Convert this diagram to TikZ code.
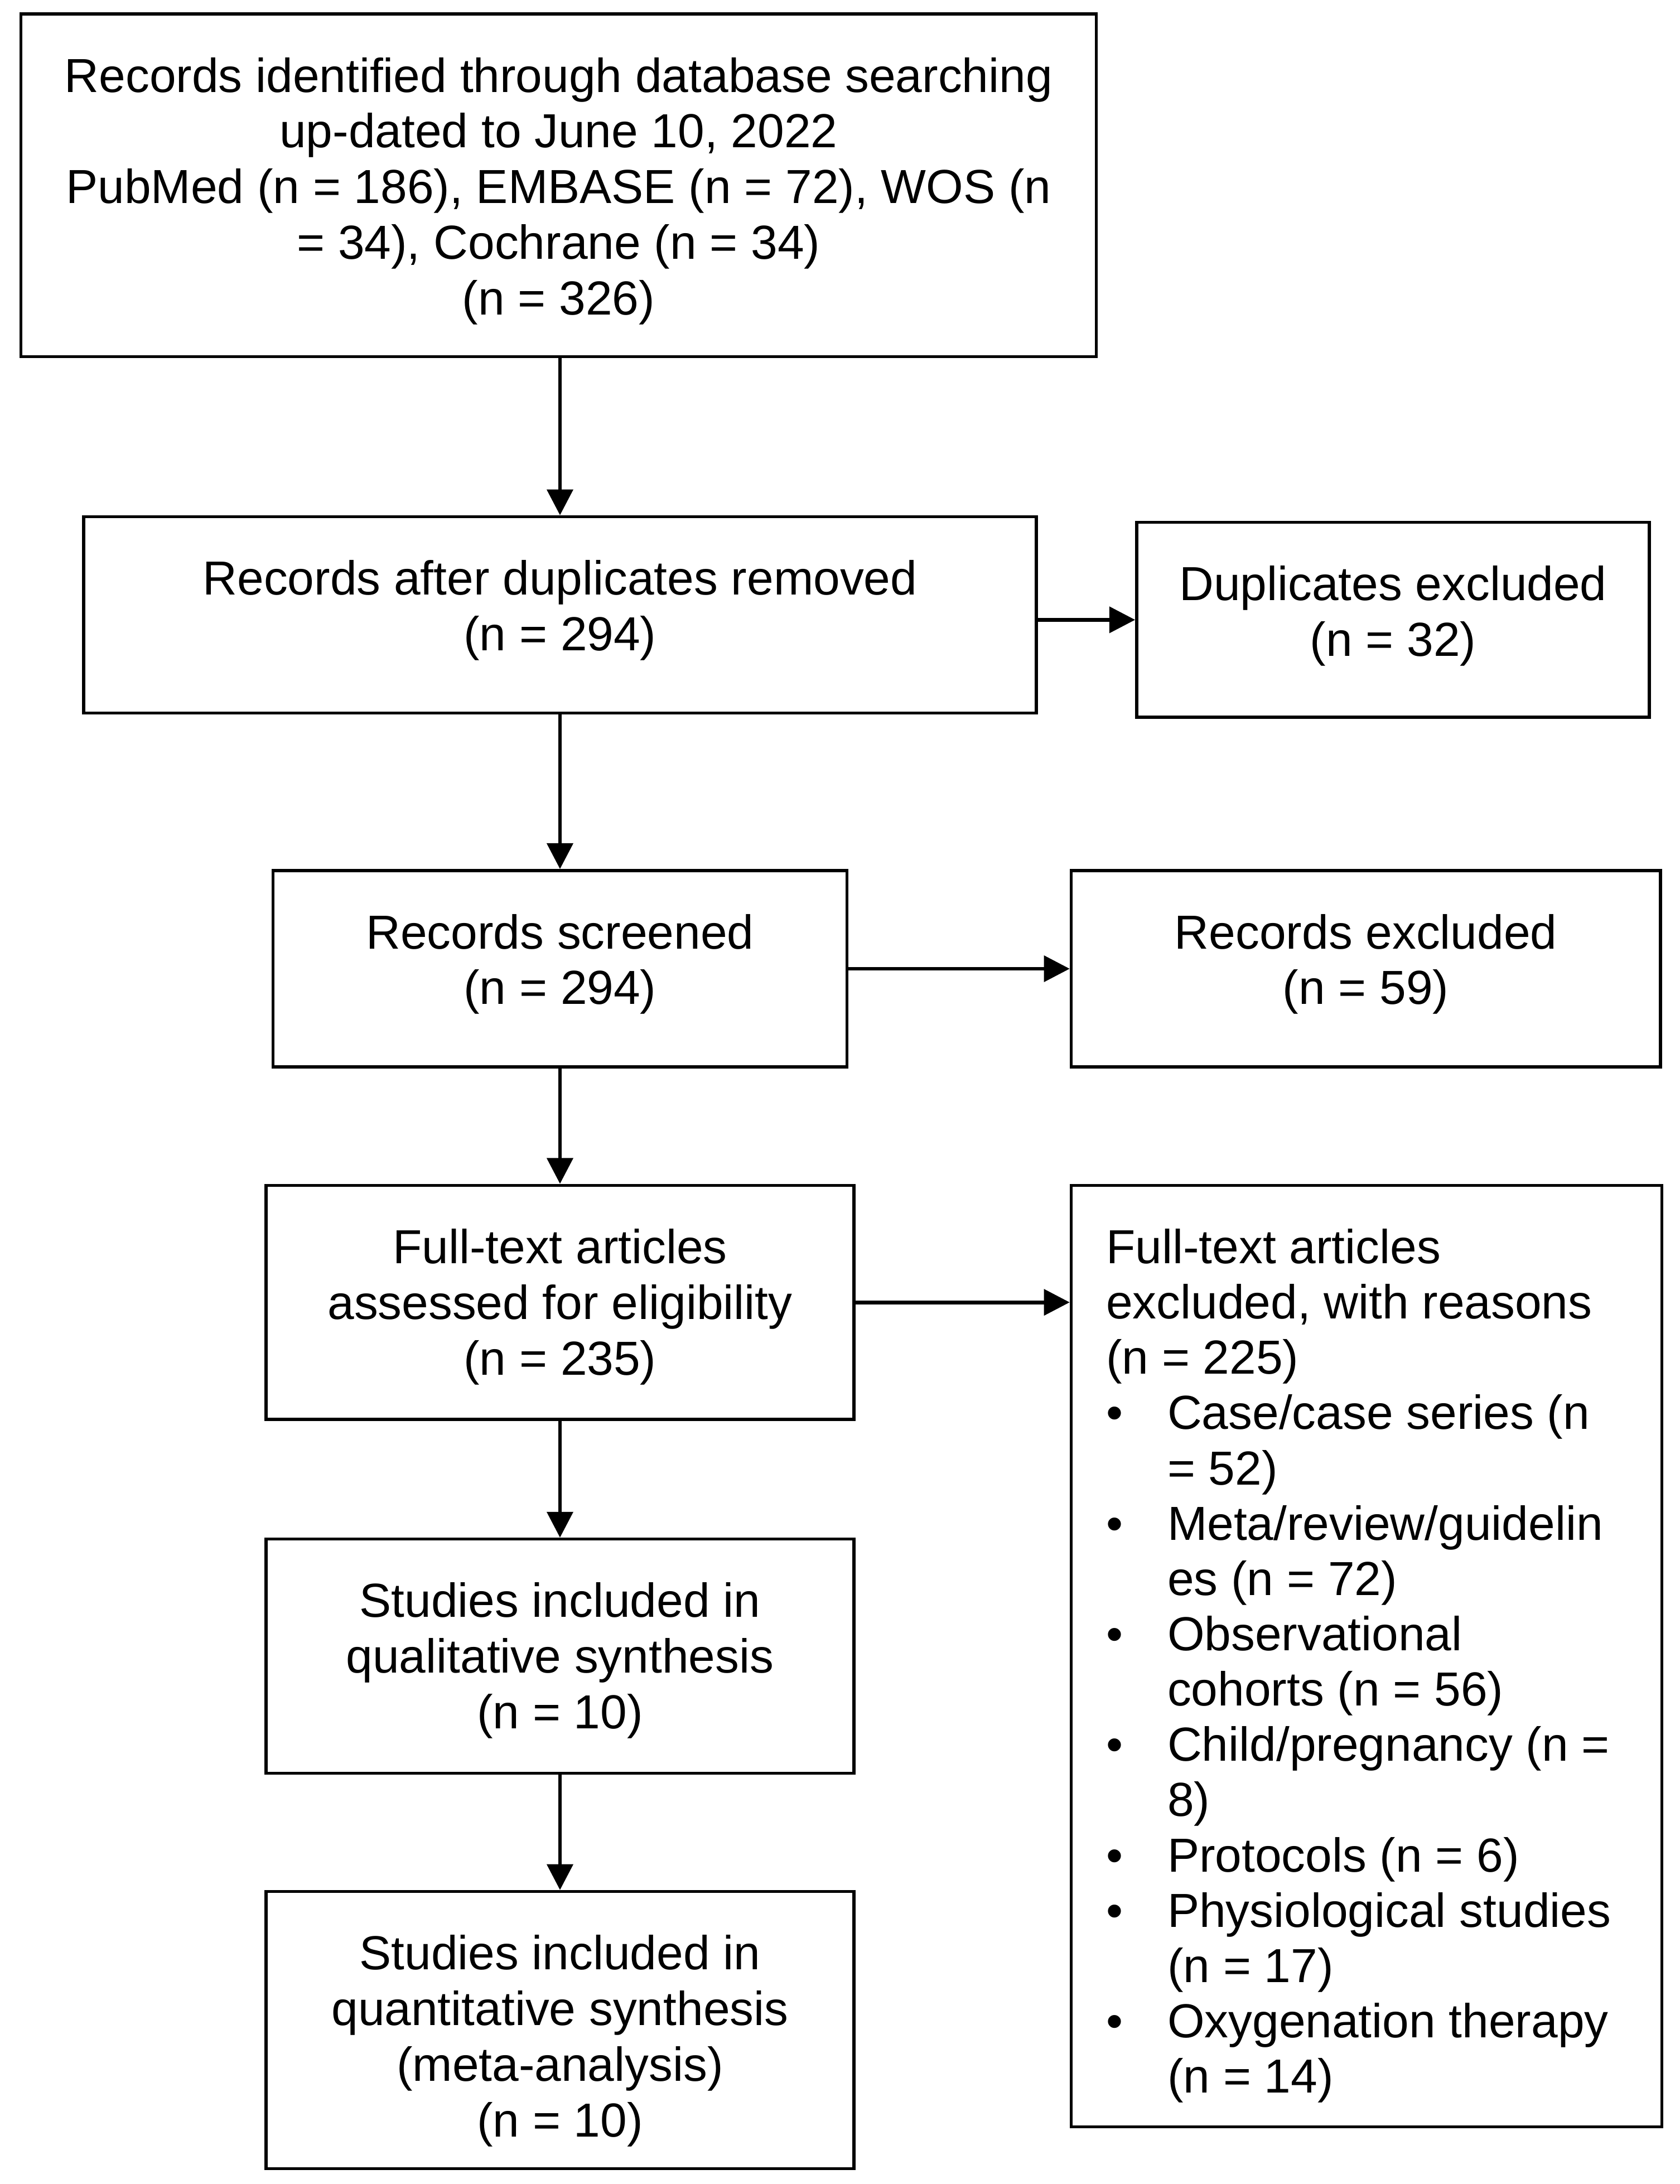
\documentclass[tikz,border=0pt]{standalone}
\usepackage{fontspec}
\setmainfont{Liberation Sans}
\usetikzlibrary{arrows.meta}
\newcommand\mybul{\makebox[44pt][l]{•}}
\newcommand\myind{\hspace*{44pt}}
\newcommand\mytop{\rule{0pt}{28pt}}
\begin{document}
\begin{tikzpicture}[x=1pt,y=-1pt,
  box/.style={draw, line width=2.2pt, inner sep=0pt},
  txt/.style={align=center, inner sep=0pt, anchor=north,
    font=\fontsize{34.3}{40}\selectfont},
  ltxt/.style={align=left, inner sep=0pt, anchor=north west,
    font=\fontsize{34.3}{39.7}\selectfont},
  conn/.style={line width=2.7pt, -{Triangle[width=18.5pt,length=18.5pt]}}]
\useasboundingbox[fill=white] (0,0) rectangle (1206,1568);

% boxes
\node[box, minimum width=772, minimum height=246] (id) at (401,133) {};
\node[box, minimum width=684, minimum height=141] (dedup) at (402,441.5) {};
\node[box, minimum width=368, minimum height=140] (dup) at (1000,445) {};
\node[box, minimum width=412, minimum height=141] (scr) at (402,695.5) {};
\node[box, minimum width=423, minimum height=141] (rex) at (980.5,695.5) {};
\node[box, minimum width=422, minimum height=168] (ft) at (402,935) {};
\node[box, minimum width=424, minimum height=676] (fex) at (981,1189) {};
\node[box, minimum width=422, minimum height=168] (qual) at (402,1189) {};
\node[box, minimum width=422, minimum height=199] (quant) at (402,1457.5) {};

% texts
\node[txt] (idT) at ([yshift=-29pt]id.north)
  {\mytop Records identified through database searching\\
   up-dated to June 10, 2022\\
   PubMed (n = 186), EMBASE (n = 72), WOS (n\\
   = 34), Cochrane (n = 34)\\
   (n = 326)};
\node[txt] (dedupT) at ([yshift=-29pt]dedup.north)
  {\mytop Records after duplicates removed\\(n = 294)};
\node[txt] (dupT) at ([yshift=-29pt]dup.north)
  {\mytop Duplicates excluded\\(n = 32)};
\node[txt] (scrT) at ([yshift=-29pt]scr.north)
  {\mytop Records screened\\(n = 294)};
\node[txt] (rexT) at ([yshift=-29pt]rex.north)
  {\mytop Records excluded\\(n = 59)};
\node[txt] (ftT) at ([yshift=-29pt]ft.north)
  {\mytop Full-text articles\\assessed for eligibility\\(n = 235)};
\node[ltxt] (fexT) at ([xshift=26pt,yshift=-29pt]fex.north west)
  {\mytop Full-text articles\\
   excluded, with reasons\\
   (n = 225)\\
   \mybul Case/case series (n\\
   \myind = 52)\\
   \mybul Meta/review/guidelin\\
   \myind es (n = 72)\\
   \mybul Observational\\
   \myind cohorts (n = 56)\\
   \mybul Child/pregnancy (n =\\
   \myind 8)\\
   \mybul Protocols (n = 6)\\
   \mybul Physiological studies\\
   \myind (n = 17)\\
   \mybul Oxygenation therapy\\
   \myind (n = 14)};
\node[txt] (qualT) at ([yshift=-29pt]qual.north)
  {\mytop Studies included in\\qualitative synthesis\\(n = 10)};
\node[txt] (quantT) at ([yshift=-29pt]quant.north)
  {\mytop Studies included in\\quantitative synthesis\\(meta-analysis)\\(n = 10)};

% connectors
\draw[conn] (id.south -| dedup.north) -- (dedup.north);
\draw[conn] (dup.west -| dedup.east) -- (dup.west);
\draw[conn] (dedup.south -| scr.north) -- (scr.north);
\draw[conn] (scr.east) -- (rex.west);
\draw[conn] (scr.south) -- (ft.north);
\draw[conn] (ft.east) -- (ft.east -| fex.west);
\draw[conn] (ft.south) -- (qual.north);
\draw[conn] (qual.south) -- (quant.north);
\end{tikzpicture}
\end{document}
